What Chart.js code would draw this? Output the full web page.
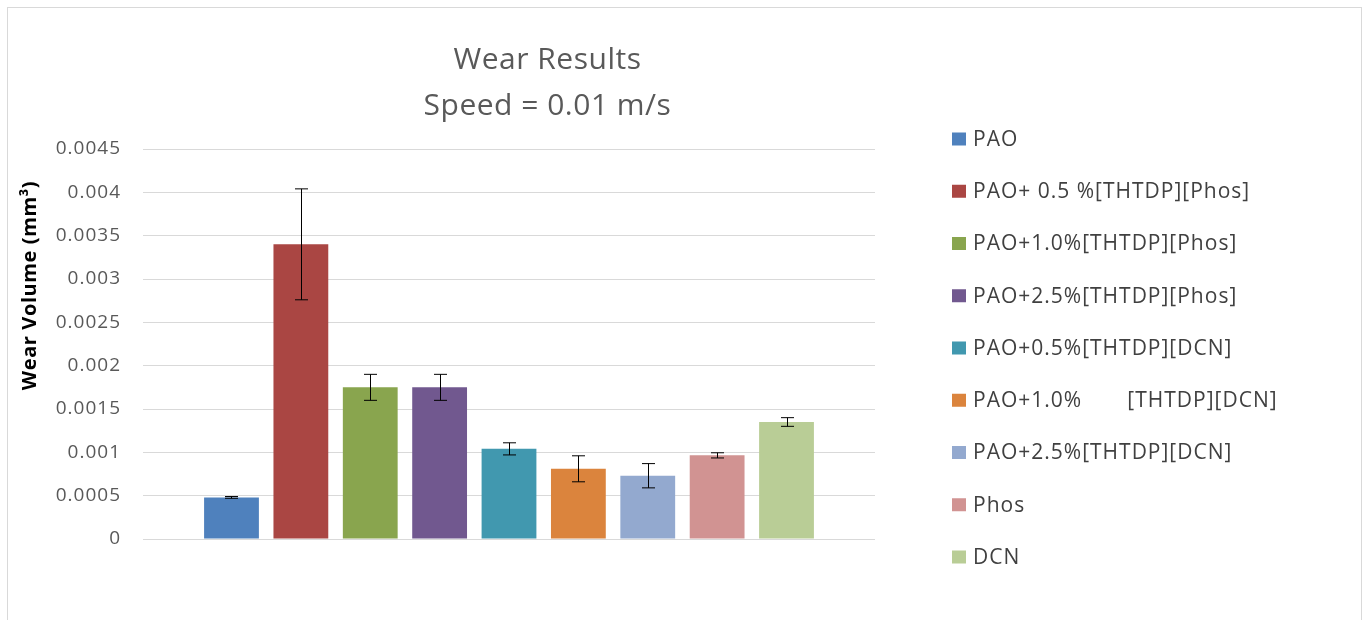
<!DOCTYPE html>
<html>
<head>
<meta charset="utf-8">
<script src="https://cdn.jsdelivr.net/npm/chart.js@4"></script>
<style>
  html, body { margin: 0; padding: 0; background: #fff; overflow: hidden; }
  #frame {
    position: absolute; left: 7px; top: 7px;
    width: 1353px; height: 640px;
    border: 1px solid #d9d9d9; background: #fff;
  }
  #chart { display: block; }
</style>
</head>
<body>
<div id="frame"><canvas id="chart" width="1353" height="620"></canvas></div>
<script>
// --- data ---
const titleLines = ['Wear Results', 'Speed = 0.01 m/s'];
const yAxisTitle = 'Wear Volume (mm\u00B3)';
const seriesNames = [
    'PAO',
    'PAO+ 0.5 %[THTDP][Phos]',
    'PAO+1.0%[THTDP][Phos]',
    'PAO+2.5%[THTDP][Phos]',
    'PAO+0.5%[THTDP][DCN]',
    'PAO+1.0%       [THTDP][DCN]',
    'PAO+2.5%[THTDP][DCN]',
    'Phos',
    'DCN'
];
const wearVolume = [0.00048, 0.0034, 0.00175, 0.00175, 0.00104, 0.00081, 0.00073, 0.000965, 0.00135];
const wearError  = [0.00001, 0.00064, 0.00015, 0.00015, 0.00007, 0.00015, 0.00014, 0.00003, 0.00005];
const seriesColors = ['#4F81BD', '#AA4643', '#89A54E', '#71588F', '#4198AF', '#DB843D', '#93A9CF', '#D19392', '#B9CD96'];
const yTickLabels = ['0', '0.0005', '0.001', '0.0015', '0.002', '0.0025', '0.003', '0.0035', '0.004', '0.0045'];

Chart.defaults.font.family = "'Open Sans', sans-serif";

// widen tick text a little (Excel's font is wider than Open Sans)
const tickSpacing = {
    id: 'tickSpacing',
    beforeDraw(chart) { chart.ctx.letterSpacing = '1px'; },
    afterDraw(chart) { chart.ctx.letterSpacing = '0px'; }
};

// error bars, drawn from the y scale
const errorBars = {
    id: 'errorBars',
    afterDatasetsDraw(chart) {
        const { ctx, scales: { y } } = chart;
        ctx.save();
        ctx.strokeStyle = '#000';
        ctx.lineWidth = 1;
        chart.data.datasets.forEach((ds, i) => {
            const bar = chart.getDatasetMeta(i).data[0];
            if (!bar) return;
            const x = Math.round(bar.x) + 0.5;
            const top = y.getPixelForValue(ds.data[0] + wearError[i]);
            const bottom = y.getPixelForValue(ds.data[0] - wearError[i]);
            ctx.beginPath();
            ctx.moveTo(x, top); ctx.lineTo(x, bottom);
            ctx.moveTo(x - 6.5, top); ctx.lineTo(x + 6.5, top);
            ctx.moveTo(x - 6.5, bottom); ctx.lineTo(x + 6.5, bottom);
            ctx.stroke();
        });
        ctx.restore();
    }
};

// titles and legend placed the way Excel put them
const decorations = {
    id: 'decorations',
    afterDraw(chart) {
        const { ctx, chartArea } = chart;
        const legendLeft = chartArea.right + 77;
        ctx.save();

        // chart title
        ctx.fillStyle = '#595959';
        ctx.font = "30px 'Open Sans'";
        ctx.letterSpacing = '0.5px';
        ctx.textAlign = 'center';
        ctx.textBaseline = 'middle';
        const cx = (chartArea.left + legendLeft) / 2;
        ctx.fillText(titleLines[0], cx, 52);
        ctx.fillText(titleLines[1], cx, 98);

        // y axis title
        ctx.save();
        ctx.translate(22, chartArea.top + (chartArea.bottom - chartArea.top) * 0.35);
        ctx.rotate(-Math.PI / 2);
        ctx.fillStyle = '#000';
        ctx.font = "bold 20px 'Open Sans'";
        ctx.letterSpacing = '0.6px';
        ctx.fillText(yAxisTitle, 0, 0);
        ctx.restore();

        // legend
        const step = 52.25;
        const mid = (chartArea.top + chartArea.bottom) / 2 + 4;
        ctx.textAlign = 'left';
        ctx.font = "21px 'Open Sans'";
        ctx.letterSpacing = '1px';
        seriesNames.forEach((name, i) => {
            const cy = mid + (i - (seriesNames.length - 1) / 2) * step;
            ctx.fillStyle = seriesColors[i];
            ctx.fillRect(legendLeft, cy - 6.5, 14, 13);
            ctx.fillStyle = '#404040';
            ctx.fillText(name, legendLeft + 21, cy + 1);
        });
        ctx.restore();
    }
};

new Chart(document.getElementById('chart'), {
    type: 'bar',
    data: {
        labels: [''],
        datasets: seriesNames.map((name, i) => ({
            label: name,
            data: [wearVolume[i]],
            backgroundColor: seriesColors[i],
            categoryPercentage: 0.853,
            barPercentage: 0.79
        }))
    },
    options: {
        responsive: false,
        animation: false,
        layout: { padding: { left: 40, right: 486, top: 141, bottom: 89 } },
        plugins: {
            legend: { display: false },
            title: { display: false },
            tooltip: { enabled: false }
        },
        scales: {
            x: { display: false },
            y: {
                min: 0,
                max: 0.0045,
                afterFit(scale) { scale.width = 95; },
                border: { display: false },
                grid: { color: '#d9d9d9', lineWidth: 1, drawTicks: false },
                ticks: {
                    stepSize: 0.0005,
                    padding: 22,
                    color: '#595959',
                    font: { size: 19 },
                    callback: (v, i) => yTickLabels[i]
                }
            }
        }
    },
    plugins: [tickSpacing, errorBars, decorations]
});
</script>
</body>
</html>
